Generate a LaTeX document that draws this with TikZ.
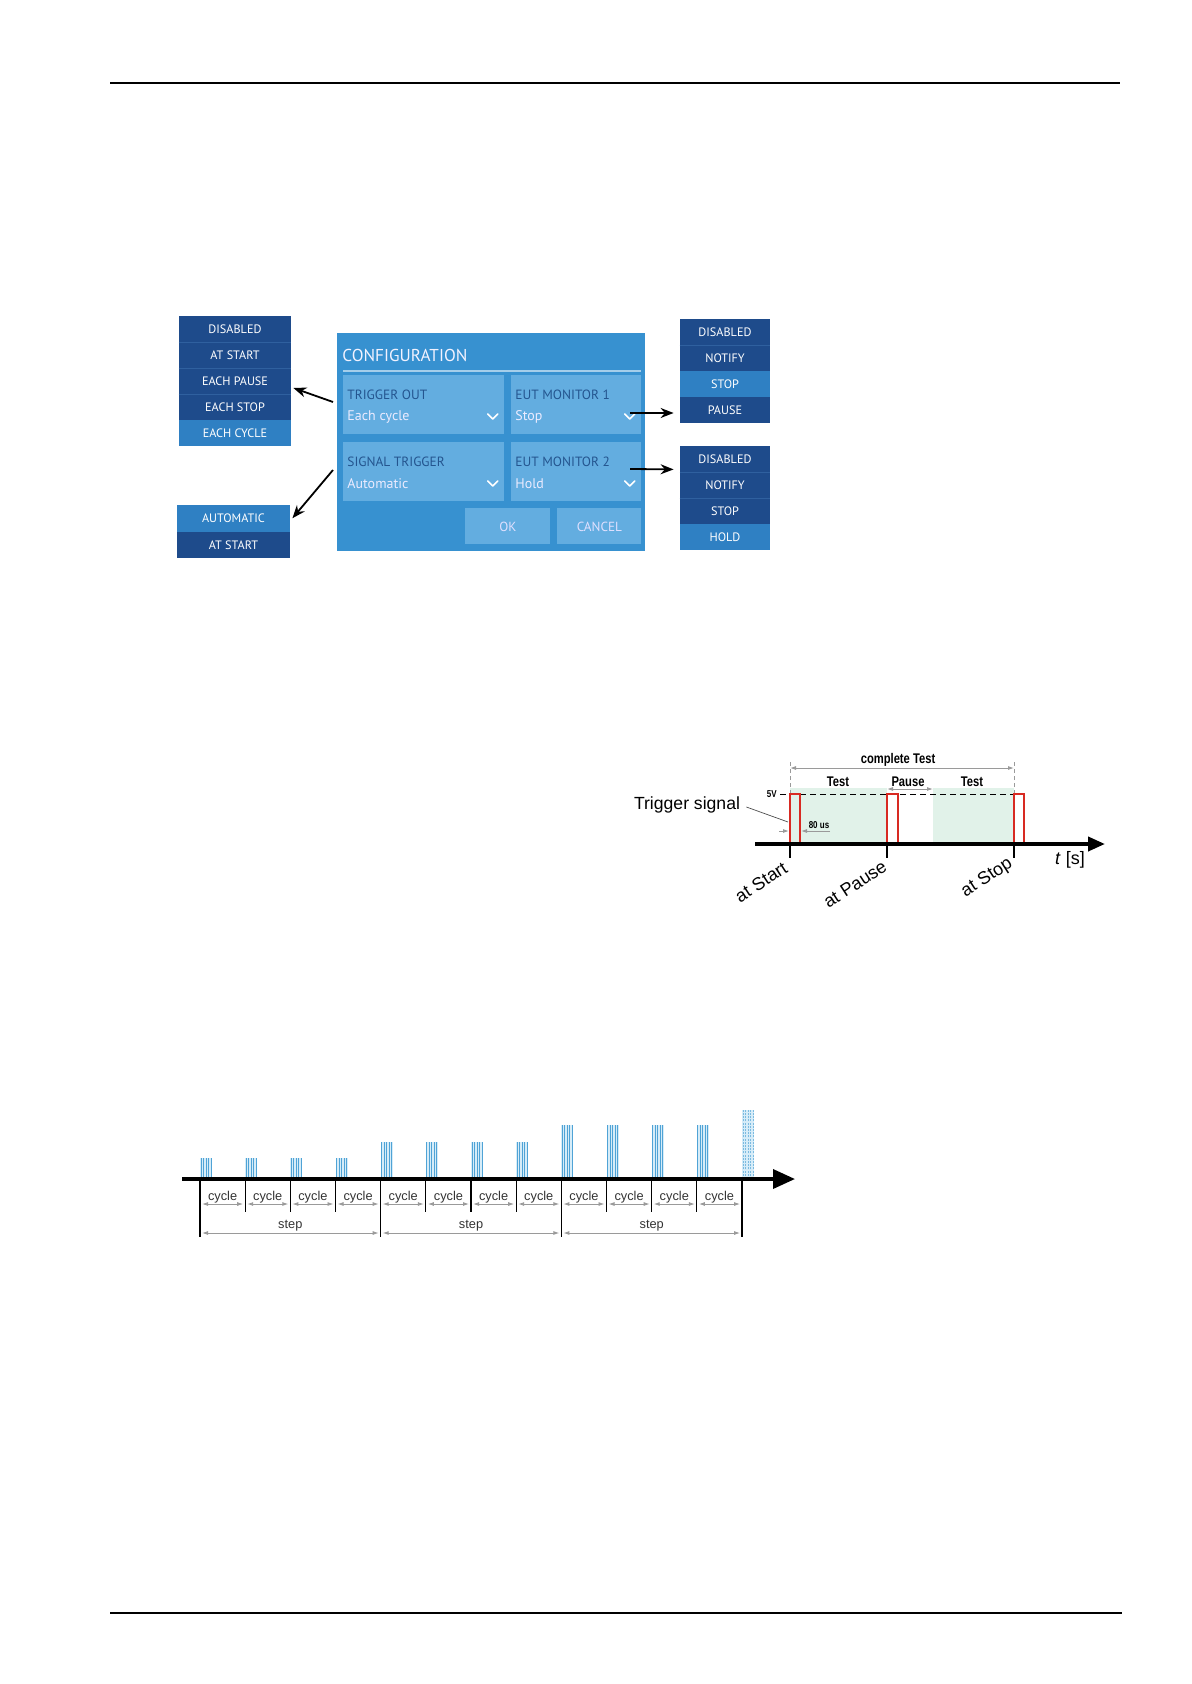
\documentclass[tikz,border=0pt]{standalone}
\usepackage{fontspec}
\setmainfont{Liberation Sans}
\newfontfamily\uifont{PT Sans}
\newfontfamily\narrowfont[FakeStretch=0.8]{Liberation Sans}
\usepackage{tikz}
\usetikzlibrary{positioning,calc,arrows.meta}
\definecolor{dlgblue}{HTML}{3791D0}
\definecolor{panelblue}{HTML}{63ADE0}
\definecolor{paneltxt}{HTML}{24558F}
\definecolor{listdark}{HTML}{1E4B8B}
\definecolor{listlight}{HTML}{2F80C3}
\definecolor{listsep}{HTML}{2F609F}
\definecolor{testgreen}{HTML}{E1F2E9}
\definecolor{pulsered}{HTML}{D82A22}
\definecolor{burstblue}{HTML}{4FA3D6}
\definecolor{burstfill}{HTML}{D6ECF8}
\definecolor{dimgray}{HTML}{9A9A9A}
\tikzset{
  rowdark/.style  = {rectangle, fill=listdark, text=white, inner sep=0pt,
                     minimum width=56pt, minimum height=13pt,
                     font=\uifont\fontsize{6.1}{7}\selectfont},
  rowlight/.style = {rowdark, fill=listlight},
  rowsep/.style   = {listsep, line width=0.4pt},
  panel/.style    = {rectangle, fill=panelblue, anchor=north west, inner sep=0pt,
                     minimum width=80.5pt, minimum height=29.5pt},
  plabel/.style   = {anchor=west, inner sep=0pt, text=paneltxt,
                     font=\uifont\fontsize{6.7}{8}\selectfont},
  pvalue/.style   = {anchor=west, inner sep=0pt, text=white!92!blue,
                     font=\uifont\fontsize{7}{8}\selectfont},
  chev/.style     = {white, line width=0.8pt, line cap=round, line join=round},
  pick/.style     = {-{Stealth[length=6.5pt,width=5pt]}, line width=0.9pt, black},
}

\begin{document}
\begin{tikzpicture}[x=0.5pt, y=-0.5pt,
  dialog/.style={rectangle, fill=dlgblue, anchor=north west, inner sep=0pt,
                 minimum width=154pt, minimum height=109pt},
  button/.style={panel, minimum width=42.5pt, minimum height=18pt,
                 text=white!88!blue, font=\uifont\fontsize{6.6}{8}\selectfont},
  taxis/.style={line width=1.9pt, -{Triangle[length=8.5pt,width=7pt]}},
  baxis/.style={line width=1.8pt, -{Triangle[length=11pt,width=9.5pt]}},
  tick/.style={line width=0.9pt},
  btick/.style={line width=0.6pt},
  dimline/.style={dimgray, line width=0.45pt,
                  {Latex[length=3pt,width=2pt]}-{Latex[length=3pt,width=2pt]}},
  dimtip/.style={dimgray, line width=0.45pt, -{Latex[length=3pt,width=2pt]}},
  extline/.style={dimgray, line width=0.45pt, dash pattern=on 2pt off 1.5pt},
  pulse/.style={pulsered, line width=1pt},
  lbl/.style={inner sep=0pt, font=\narrowfont\bfseries\fontsize{7}{8}\selectfont},
  smlbl/.style={inner sep=0pt, font=\narrowfont\bfseries\fontsize{5}{6}\selectfont},
  rot/.style={inner sep=0pt, rotate=33, font=\fontsize{9}{10}\selectfont},
  cyc/.style={inner sep=0pt, text=black!80, font=\fontsize{6.4}{7}\selectfont},
  burst/.style={burstblue, line width=0.45pt}
]
\useasboundingbox (0,0) rectangle (1191,1684);
% page rules
\draw[line width=0.7pt] (110,83) -- (1120,83);
\draw[line width=1.3pt] (110,1613) -- (1122,1613);

% Trigger out list
\node[rowdark]  (tDis) at (235,329) {DISABLED};
\node[rowdark]  (tSta) at (235,355) {AT START};
\node[rowdark]  (tPau) at (235,381) {EACH PAUSE};
\node[rowdark]  (tSto) at (235,407) {EACH STOP};
\node[rowlight] (tCyc) at (235,433) {EACH CYCLE};
\draw[rowsep] (tDis.south west) -- (tDis.south east);
\draw[rowsep] (tSta.south west) -- (tSta.south east);
\draw[rowsep] (tPau.south west) -- (tPau.south east);
% Signal trigger list
\node[rowlight, minimum width=56.5pt, minimum height=13.25pt] (sAut) at (233.5,518.25) {AUTOMATIC};
\node[rowdark,  minimum width=56.5pt, minimum height=13.25pt] (sSta) at (233.5,544.75) {AT START};
% EUT monitor 1 list
\node[rowdark,  minimum width=45pt] (aDis) at (725,332) {DISABLED};
\node[rowdark,  minimum width=45pt] (aNot) at (725,358) {NOTIFY};
\node[rowlight, minimum width=45pt] (aSto) at (725,384) {STOP};
\node[rowdark,  minimum width=45pt] (aPau) at (725,410) {PAUSE};
\draw[rowsep] (aDis.south west) -- (aDis.south east);
% EUT monitor 2 list
\node[rowdark,  minimum width=45pt] (bDis) at (725,459) {DISABLED};
\node[rowdark,  minimum width=45pt] (bNot) at (725,485) {NOTIFY};
\node[rowdark,  minimum width=45pt] (bSto) at (725,511) {STOP};
\node[rowlight, minimum width=45pt] (bHol) at (725,537) {HOLD};
\draw[rowsep] (bDis.south west) -- (bDis.south east);
\draw[rowsep] (bNot.south west) -- (bNot.south east);

% Configuration dialog
\node[dialog] (cfg) at (337,333) {};
\node[anchor=west, inner sep=0pt, text=white!95!blue,
      font=\uifont\fontsize{8.6}{10}\selectfont] (ttl) at (342,355) {CONFIGURATION};
\draw[white!55!dlgblue, line width=0.6pt] (343,371) -- (641,371);
\node[panel] (pTrig) at (343,375) {};
\node[panel, minimum width=65pt] (pEutA) at (511,375) {};
\node[panel] (pSig) at (343,442) {};
\node[panel, minimum width=65pt] (pEutB) at (511,442) {};
\node[button] (bOk) at (465,508) {OK};
\node[button, minimum width=42pt] (bCan) at (557,508) {CANCEL};
\node[plabel] (lTrig) at ([shift={(2pt,-10pt)}]pTrig.north west) {TRIGGER OUT};
\node[pvalue] (vTrig) at ([shift={(2pt,-21pt)}]pTrig.north west) {Each cycle};
\node[plabel] (lEutA) at ([shift={(2pt,-10pt)}]pEutA.north west) {EUT MONITOR 1};
\node[pvalue] (vEutA) at ([shift={(2pt,-21pt)}]pEutA.north west) {Stop};
\node[plabel] (lSig) at ([shift={(2pt,-10pt)}]pSig.north west) {SIGNAL TRIGGER};
\node[pvalue] (vSig) at ([shift={(2pt,-21pt)}]pSig.north west) {Automatic};
\node[plabel] (lEutB) at ([shift={(2pt,-10pt)}]pEutB.north west) {EUT MONITOR 2};
\node[pvalue] (vEutB) at ([shift={(2pt,-21pt)}]pEutB.north west) {Hold};
\draw[chev] ([shift={(-8.5pt,-19.5pt)}]pTrig.north east) -- ++(2.5pt,-2.5pt) -- ++(2.5pt,2.5pt);
\draw[chev] ([shift={(-8.5pt,-19.5pt)}]pEutA.north east) -- ++(2.5pt,-2.5pt) -- ++(2.5pt,2.5pt);
\draw[chev] ([shift={(-8.5pt,-19.5pt)}]pSig.north east) -- ++(2.5pt,-2.5pt) -- ++(2.5pt,2.5pt);
\draw[chev] ([shift={(-8.5pt,-19.5pt)}]pEutB.north east) -- ++(2.5pt,-2.5pt) -- ++(2.5pt,2.5pt);
% pointers to the lists
\coordinate (fTrig) at (333,402);
\coordinate (fSig)  at (333,470);
\coordinate (fEutA) at (630,413);
\coordinate (fEutB) at (630,469);
\draw[pick] (fTrig) -- ([shift={(1pt,-3.5pt)}]tPau.east);
\draw[pick] (fSig)  -- ([xshift=1pt]sAut.east);
\draw[pick] (fEutA) -- ([shift={(-3pt,-1.5pt)}]aPau.west);
\draw[pick] (fEutB) -- ([shift={(-3pt,1.5pt)}]bDis.south west);

% Trigger signal timing
\fill[testgreen] (790,788) rectangle (887,844);
\fill[testgreen] (933,788) rectangle (1014,844);
\coordinate (atS) at (790,844);
\coordinate (atP) at (887,844);
\coordinate (atE) at (1014,844);
\draw[line width=0.5pt, dash pattern=on 3pt off 2pt] (780,794) -- (1014,794);
\draw[extline] (790,794) -- (790,762);
\draw[extline] (1014,794) -- (1014,762);
\draw[dimline] (790,768) -- (1014,768);
\draw[dimline] (887,789) -- (933,789);
\draw[pulse] (atS) |- (800,794) -- (800,844);
\draw[pulse] (atP) |- (898,794) -- (898,844);
\draw[pulse] (atE) |- (1024,794) -- (1024,844);
\coordinate (axL) at (755,844);
\coordinate (axR) at (1105,844);
\draw[taxis] (axL) -- (axR);
\draw[tick] (atS) -- ++(0,14);
\draw[tick] (atP) -- ++(0,14);
\draw[tick] (atE) -- ++(0,14);
\node[lbl] (lCt) at (898,760) {complete Test};
\node[lbl] (lT1) at (838,782) {Test};
\node[lbl] (lPa) at (908,782) {Pause};
\node[lbl] (lT2) at (972,782) {Test};
\node[smlbl, anchor=east] (l5v) at (777,794) {5V};
\node[smlbl] (l80) at (819,825) {80 us};
\draw[dimtip] (779,831) -- (789,831);
\draw[dimtip] (830,831) -- (801,831);
\node[inner sep=0pt, font=\fontsize{8.8}{10}\selectfont] (lTrg) at (687,805) {Trigger signal};
\coordinate (pIn) at (788,822);
\draw[line width=0.35pt, black!70] ([xshift=3pt,yshift=-1pt]lTrg.east) -- (pIn);
\node[rot] (lS) at (761,882) {at Start};
\node[rot] (lP) at (855,884) {at Pause};
\node[rot] (lE) at (987,878) {at Stop};
\node[inner sep=0pt, font=\fontsize{9}{10}\selectfont] (lt) at (1070,860) {\textit{t} [s]};

% cycles and steps
\foreach \i in {0,...,12}
  \coordinate (k\i) at ({200+45.17*\i},1179);
\foreach \i in {0,...,11} {
  \pgfmathsetmacro{\h}{21+16.5*int(\i/4)}
  \fill[burstfill] (k\i) rectangle ++(12,-\h);
  \foreach \o in {1,3.5,6,8.5,11}
    \draw[burst] ([xshift=\o*0.5pt]k\i) -- ++(0,-\h);
}
\fill[burstfill] (k12) rectangle ++(12,-69);
\foreach \o in {1,3.5,6,8.5,11}
  \draw[burst, burstblue!75, dash pattern=on 1pt off 0.6pt] ([xshift=\o*0.5pt]k12) -- ++(0,-69);
\coordinate (bL) at (182,1179);
\coordinate (bR) at (795,1179);
\draw[baxis] (bL) -- (bR);
\foreach \i in {1,2,3,5,6,7,9,10,11}
  \draw[btick] (k\i) -- ++(0,33);
\foreach \i in {0,4,8,12}
  \draw[btick] (k\i) -- ++(0,58);
\foreach \i [evaluate=\i as \j using int(\i+1)] in {0,...,11} {
  \node[cyc] (cy\i) at ($(k\i)!0.5!(k\j)+(0,18)$) {cycle};
  \draw[dimline] ([shift={(1pt,-12.5pt)}]k\i) -- ([shift={(-1pt,-12.5pt)}]k\j);
}
\foreach \s [evaluate=\s as \a using int(4*\s), evaluate=\s as \b using int(4*\s+4)] in {0,1,2} {
  \node[cyc] (st\s) at ($(k\a)!0.5!(k\b)+(0,47)$) {step};
  \draw[dimline] ([shift={(1pt,-27pt)}]k\a) -- ([shift={(-1pt,-27pt)}]k\b);
}
\end{tikzpicture}
\end{document}
